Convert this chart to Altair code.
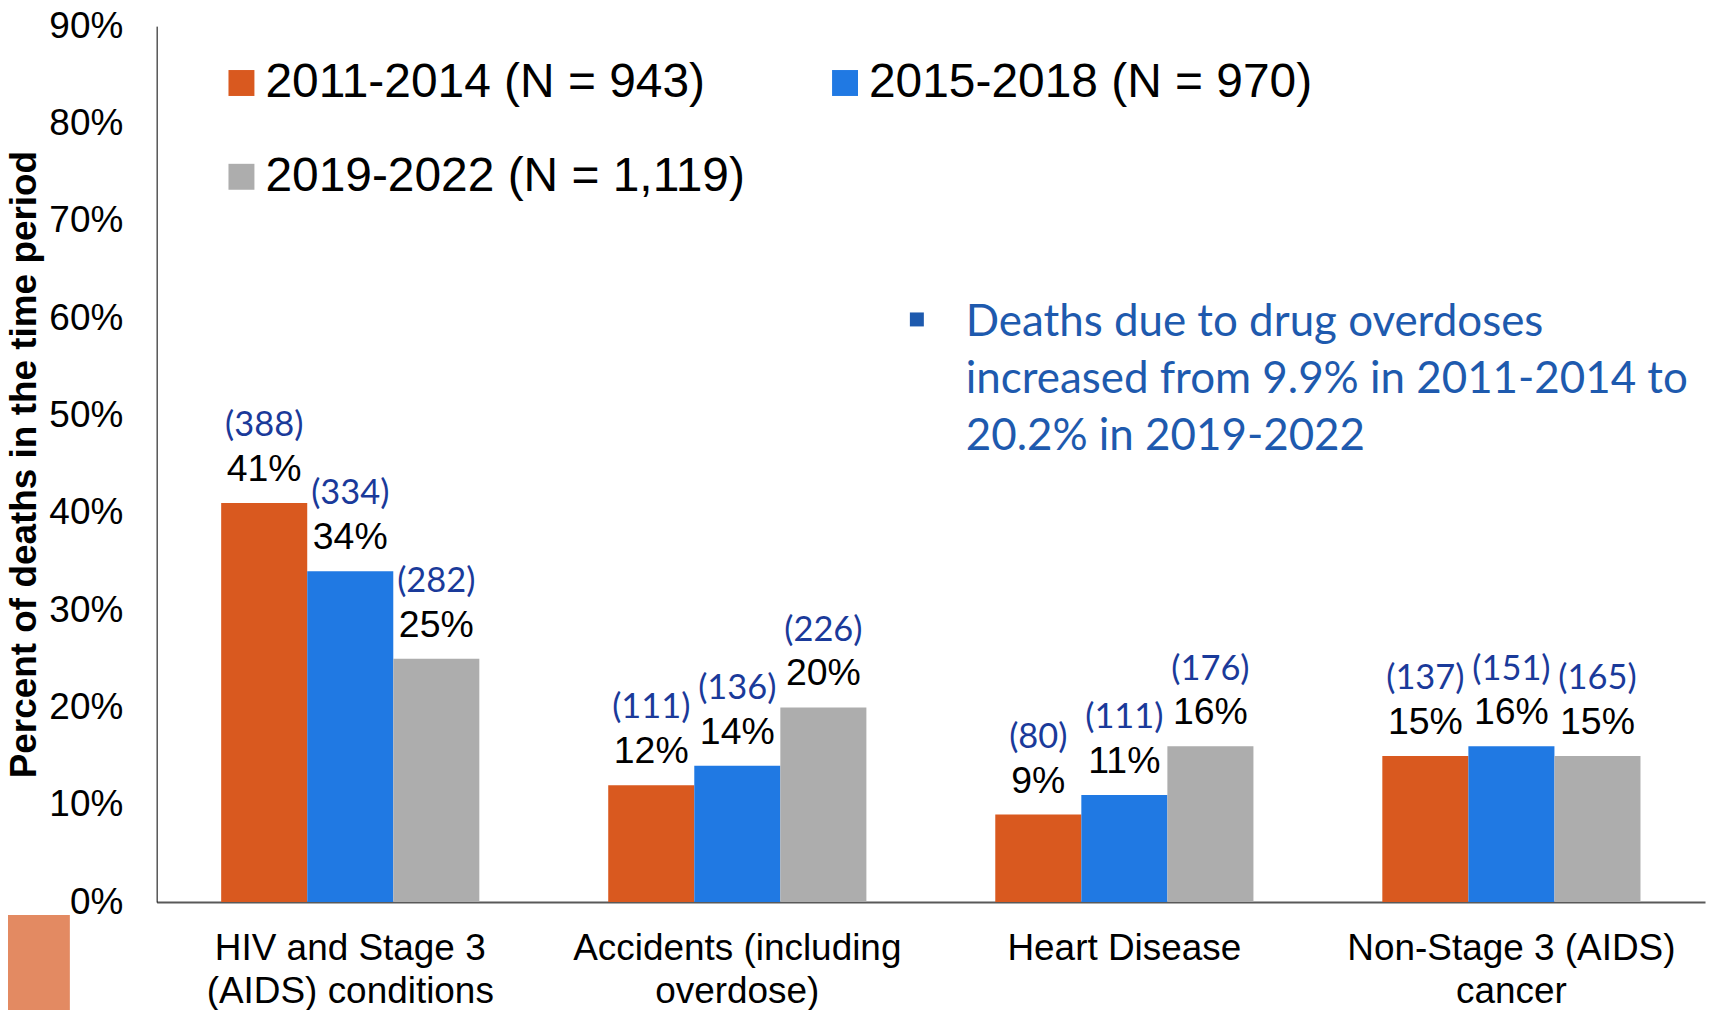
import altair as alt
import pandas as pd

categories = [
    "HIV and Stage 3|(AIDS) conditions",
    "Accidents (including|overdose)",
    "Heart Disease",
    "Non-Stage 3 (AIDS)|cancer",
]
periods = ["2011-2014 (N = 943)", "2015-2018 (N = 970)", "2019-2022 (N = 1,119)"]
pct_2011 = [41, 12, 9, 15]
pct_2015 = [34, 14, 11, 16]
pct_2019 = [25, 20, 16, 15]
counts_2011 = [388, 111, 80, 137]
counts_2015 = [334, 136, 111, 151]
counts_2019 = [282, 226, 176, 165]
y_ticks = [0, 10, 20, 30, 40, 50, 60, 70, 80, 90]
note_lines = [
    "Deaths due to drug overdoses",
    "increased from 9.9% in 2011-2014 to",
    "20.2% in 2019-2022",
]

colors = ["#D9591F", "#2079E3", "#ADADAD"]

# legend lays entries out column by column; reorder so rows read 2011, 2015 / 2019
legend_order = [periods[0], periods[2], periods[1]]
legend_colors = [colors[0], colors[2], colors[1]]

rows = []
for p, pcts, cnts in zip(periods, [pct_2011, pct_2015, pct_2019],
                         [counts_2011, counts_2015, counts_2019]):
    for c, v, n in zip(categories, pcts, cnts):
        rows.append({"cause": c, "period": p, "pct": v,
                     "pct_label": f"{v}%", "count_label": f"({n})"})
df = pd.DataFrame(rows)

x = alt.X(
    "cause:N", sort=categories,
    scale=alt.Scale(paddingInner=0.333, paddingOuter=0.1667),
    axis=alt.Axis(
        title=None, labelAngle=0, labelExpr="split(datum.label, '|')",
        labelFont="Liberation Sans", labelFontSize=37, labelColor="black",
        labelLineHeight=43, labelPadding=29, ticks=False,
        domainColor="#595959", domainWidth=2, labelLimit=0,
    ),
)
xo = alt.XOffset("period:N", sort=periods,
                 scale=alt.Scale(paddingInner=0, paddingOuter=0))
y = alt.Y(
    "pct:Q",
    scale=alt.Scale(domain=[0, 90], nice=False, zero=True),
    axis=alt.Axis(
        values=y_ticks, labelExpr="datum.value + '%'",
        title="Percent of deaths in the time period",
        titleFont="Liberation Sans", titleFontSize=37, titleFontWeight="bold",
        titleColor="black", titlePadding=5,
        grid=False, ticks=False, domainColor="black", domainWidth=1,
        labelPadding=34, labelFont="Liberation Sans", labelFontSize=37,
        labelColor="black",
    ),
)
color = alt.Color(
    "period:N",
    scale=alt.Scale(domain=legend_order, range=legend_colors),
    legend=alt.Legend(
        title=None, orient="none", legendX=61, legendY=33, columns=2,
        symbolType="square", symbolSize=676, symbolStrokeWidth=0,
        labelFontSize=48, labelFont="Liberation Sans", labelColor="black",
        columnPadding=76, rowPadding=46, labelOffset=0, padding=0,
        labelLimit=0, symbolOpacity=1,
    ),
)

base = alt.Chart(df)
bars = base.mark_bar().encode(x=x, xOffset=xo, y=y, color=color)
pct_text = base.mark_text(
    dy=-33, baseline="middle", font="Liberation Sans", fontSize=37.5, color="black"
).encode(x=x, xOffset=xo, y=y, text="pct_label:N")
count_text = base.mark_text(
    dy=-77, baseline="middle", font="Lato", fontSize=34.5, color="#1A3A9A"
).encode(x=x, xOffset=xo, y=y, text="count_label:N")

note_df = pd.DataFrame({"t": ["\n".join(note_lines)]})
note = alt.Chart(note_df).mark_text(
    lineBreak="\n", align="left", baseline="middle", font="Lato",
    fontSize=44, lineHeight=57, color="#1E5AAE"
).encode(x=alt.value(811), y=alt.value(298), text="t:N")

bullet = alt.Chart(note_df).mark_square(
    size=196, color="#1E5AAE", opacity=1
).encode(x=alt.value(762), y=alt.value(294))

deco = alt.Chart(note_df).mark_rect(color="#E38A62").encode(
    x=alt.value(-149), x2=alt.value(-87), y=alt.value(891), y2=alt.value(995)
)

chart = alt.layer(bars, pct_text, count_text, note, bullet, deco).properties(
    width=1552, height=878,
    padding={"left": 149, "top": 17, "right": 5, "bottom": 107},
    autosize=alt.AutoSizeParams(type="none"),
).configure_view(stroke=None)

chart.save("out.html", embed_options={"renderer": "svg", "actions": False})
